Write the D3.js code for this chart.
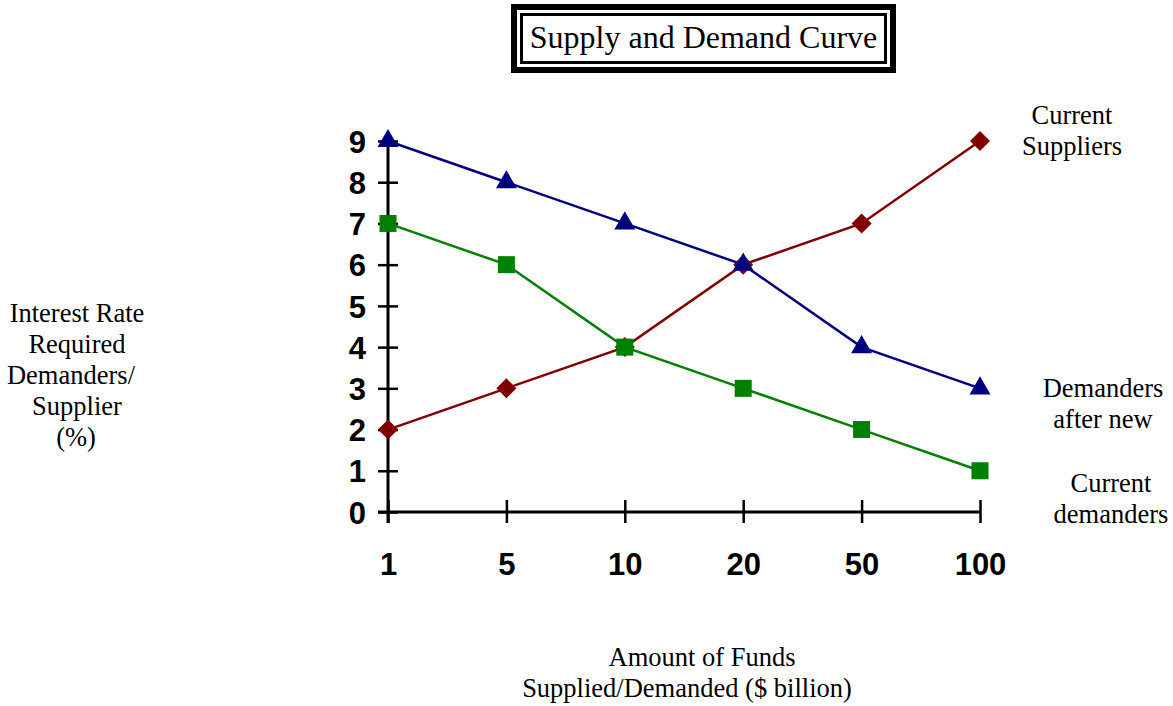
<!DOCTYPE html>
<html>
<head>
<meta charset="utf-8">
<script src="https://cdn.jsdelivr.net/npm/d3@7"></script>
<style>
  html, body { margin: 0; padding: 0; background: #fff; }
  svg { display: block; }
  .serif { font-family: "Liberation Serif", "Times New Roman", serif; fill: #000; }
  .tick text { font-family: "Liberation Sans", Arial, sans-serif; font-weight: bold; font-size: 31px; fill: #000; }
</style>
</head>
<body>
<svg id="chart" width="1173" height="706"></svg>
<script>
// Funds amounts ($ billion) along the horizontal axis
const categories = ["1", "5", "10", "20", "50", "100"];
// Interest rate (%) for each group
const currentSuppliers = [2, 3, 4, 6, 7, 9];
const demandersAfterNew = [9, 8, 7, 6, 4, 3];
const currentDemanders = [7, 6, 4, 3, 2, 1];
const yTicks = [0, 1, 2, 3, 4, 5, 6, 7, 8, 9];

const svg = d3.select("#chart");

const x = d3.scalePoint().domain(categories).range([388, 980]);
const y = d3.scaleLinear().domain([0, 9]).range([512, 141]);

// Title with double frame
const title = svg.append("g");
title.append("rect").attr("x", 514).attr("y", 7).attr("width", 379).attr("height", 63)
  .attr("fill", "none").attr("stroke", "#000").attr("stroke-width", 6);
title.append("rect").attr("x", 521.5).attr("y", 14.5).attr("width", 364).attr("height", 48)
  .attr("fill", "none").attr("stroke", "#000").attr("stroke-width", 3);
title.append("text").attr("class", "serif").attr("x", 703.5).attr("y", 48)
  .attr("text-anchor", "middle").attr("font-size", 32).text("Supply and Demand Curve");

// Y axis
const yAxis = svg.append("g").attr("transform", `translate(${x(categories[0])},0)`)
  .call(d3.axisLeft(y).tickValues(yTicks).tickFormat(d3.format("d")).tickSize(10).tickPadding(12));
yAxis.select(".domain").remove();
yAxis.selectAll(".tick line").attr("x1", 10).attr("stroke", "#000").attr("stroke-width", 2.5);
yAxis.selectAll(".tick text").attr("dy", "0.36em");

// X axis
const xAxis = svg.append("g").attr("transform", `translate(0,${y(0)})`)
  .call(d3.axisBottom(x).tickSize(11).tickPadding(30));
xAxis.select(".domain").remove();
xAxis.selectAll(".tick line").attr("y1", -12).attr("stroke", "#000").attr("stroke-width", 2.5);

// Axis lines
svg.append("line")
  .attr("x1", x(categories[0])).attr("x2", x(categories[0]))
  .attr("y1", y(9)).attr("y2", y(0) + 11)
  .attr("stroke", "#000").attr("stroke-width", 3);
svg.append("line")
  .attr("x1", x(categories[0]) - 10).attr("x2", x(categories[categories.length - 1]))
  .attr("y1", y(0)).attr("y2", y(0))
  .attr("stroke", "#000").attr("stroke-width", 3);

const series = [
  { values: currentSuppliers, color: "#800000", symbol: d3.symbolSquare, size: 200, rotate: 45 },
  { values: demandersAfterNew, color: "#000080", symbol: d3.symbolTriangle, size: 190, rotate: 0 },
  { values: currentDemanders, color: "#008000", symbol: d3.symbolSquare, size: 290, rotate: 0 }
];

const line = d3.line().x((d, i) => x(categories[i])).y(d => y(d));

series.forEach(s => {
  svg.append("path").datum(s.values)
    .attr("d", line).attr("fill", "none")
    .attr("stroke", s.color).attr("stroke-width", 2.5);
  svg.append("g").selectAll("path").data(s.values).join("path")
    .attr("transform", (d, i) => `translate(${x(categories[i])},${y(d)}) rotate(${s.rotate})`)
    .attr("d", d3.symbol().type(s.symbol).size(s.size))
    .attr("fill", s.color);
});

// Series labels on the right
const labels = [
  { lines: ["Current", "Suppliers"], cx: 1072, y0: 124 },
  { lines: ["Demanders", "after new"], cx: 1103, y0: 397 },
  { lines: ["Current", "demanders"], cx: 1111, y0: 492 }
];
labels.forEach(l => {
  l.lines.forEach((t, i) => {
    svg.append("text").attr("class", "serif").attr("font-size", 26.5)
      .attr("x", l.cx).attr("y", l.y0 + i * 31).attr("text-anchor", "middle").text(t);
  });
});

// Y axis title
[["Interest Rate", 77], ["Required", 77], ["Demanders/", 71], ["Supplier", 77], ["(%)", 76]].forEach(([t, cx], i) => {
  svg.append("text").attr("class", "serif").attr("font-size", 26.5)
    .attr("x", cx).attr("y", 322 + i * 31).attr("text-anchor", "middle").text(t);
});

// X axis title
[["Amount of Funds", 702], ["Supplied/Demanded ($ billion)", 687]].forEach(([t, cx], i) => {
  svg.append("text").attr("class", "serif").attr("font-size", 26.5)
    .attr("x", cx).attr("y", 666 + i * 31).attr("text-anchor", "middle").text(t);
});
</script>
</body>
</html>
